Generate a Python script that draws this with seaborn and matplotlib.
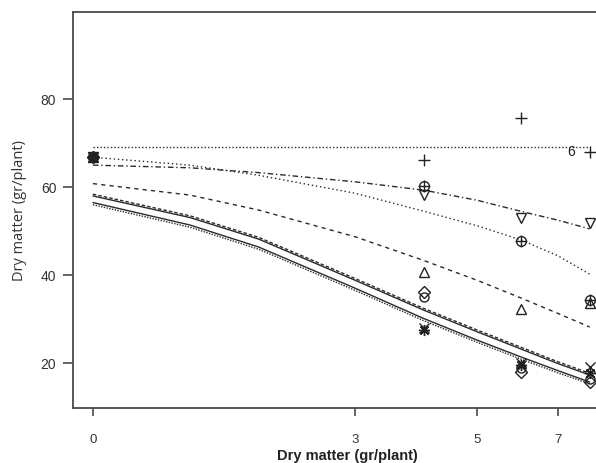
import numpy as np
import matplotlib
matplotlib.use("Agg")
import matplotlib.pyplot as plt
import seaborn as sns

# --- data ---
# doses of the observations; dose 0 is drawn at position 1 on the log axis (axis break)
dose = [0, 4, 6, 8]
zero_pos = 1.0

obs_plus = [66.8, 66.1, 75.7, 68.0]
obs_oplus = [66.8, 60.2, 47.7, 34.3]
obs_tri_down = [66.8, 58.2, 52.9, 51.9]
obs_tri_up = [66.8, 40.8, 32.4, 33.6]
obs_diamond = [66.8, 36.2, 18.0, 15.8]
obs_circle = [66.8, 35.1, 19.0, 16.5]
obs_cross = [66.8, 28.0, 20.0, 19.2]
obs_star = [66.8, 27.5, 19.5, 17.7]

# fitted curves, read at these axis positions (1 = dose 0)
curve_x = [1, 1.5, 2, 3, 4, 5, 6, 7, 8]
fit_flat = [69.1, 69.1, 69.1, 69.1, 69.1, 69.1, 69.1, 69.1, 69.1]
fit_dashdot = [65.0, 64.4, 63.3, 61.2, 59.3, 57.0, 54.5, 52.5, 50.5]
fit_dotted = [66.8, 65.0, 62.7, 58.6, 54.5, 51.2, 48.0, 44.4, 40.2]
fit_dashed = [60.8, 58.2, 54.8, 48.7, 43.3, 38.8, 34.8, 31.3, 28.2]
fit_up_solid = [58.0, 53.1, 48.2, 38.8, 32.0, 27.1, 23.2, 19.9, 17.3]
fit_up_dashed = [58.4, 53.5, 48.6, 39.2, 32.4, 27.5, 23.6, 20.3, 17.7]
fit_low_solid = [56.5, 51.4, 46.4, 37.0, 30.1, 25.2, 21.4, 18.3, 15.7]
fit_low_dotted = [56.0, 50.9, 45.9, 36.5, 29.6, 24.7, 20.9, 17.8, 15.3]

tick_pos = [1, 3, 5, 7]
tick_labels = ['0', '3', '5', '7']
y_ticks = [20, 40, 60, 80]

# --- figure ---
sns.set_theme(style='white')
plt.rcParams['font.family'] = ['Liberation Sans', 'DejaVu Sans']

fig = plt.figure(figsize=(5.96, 4.63), dpi=100)
ax = fig.add_axes([0.1225, 0.1188, 0.92, 0.8552])

line_col = '#2a2a2a'
curves = [
    (fit_flat, (0, (1, 1.5))),
    (fit_dashdot, (0, (4, 2, 1, 2))),
    (fit_dotted, (0, (1, 2))),
    (fit_dashed, (0, (3, 3))),
    (fit_up_solid, '-'),
    (fit_up_dashed, (0, (2.5, 1.5))),
    (fit_low_solid, '-'),
    (fit_low_dotted, (0, (1, 1))),
]
for vals, ls in curves:
    sns.lineplot(x=curve_x, y=vals, ax=ax, color=line_col, linewidth=1.0,
                 linestyle=ls, sort=False, estimator=None)

x_obs = np.where(np.array(dose) == 0, zero_pos, dose)
hollow = [(obs_tri_down, 'v', 7), (obs_tri_up, '^', 7),
          (obs_diamond, 'D', 6), (obs_circle, 'o', 6.5)]
for vals, mk, ms in hollow:
    ax.plot(x_obs, vals, linestyle='none', marker=mk, markersize=ms,
            markerfacecolor='none', markeredgecolor='#222', markeredgewidth=1.0)

open_marks = [(obs_plus, '+', 9), (obs_cross, 'x', 6.5), (obs_star, (8, 2, 0), 8)]
for vals, mk, ms in open_marks:
    ax.plot(x_obs, vals, linestyle='none', marker=mk, markersize=ms,
            color='#222', markeredgewidth=1.0)
ax.plot(x_obs, obs_oplus, linestyle='none', marker='o', markersize=7,
        markerfacecolor='none', markeredgecolor='#222', markeredgewidth=1.0)
ax.plot(x_obs, obs_oplus, linestyle='none', marker='+', markersize=9,
        color='#222', markeredgewidth=1.0)

ax.text(7.4, 68.0, '6', ha='center', va='center', fontsize=10, color='#222')

ax.set_xscale('log')
ax.set_xlim(0.92, 9.13)
ax.set_ylim(9.8, 99.8)
ax.set_xticks(tick_pos)
ax.set_xticklabels(tick_labels)
ax.xaxis.set_minor_locator(matplotlib.ticker.NullLocator())
ax.set_yticks(y_ticks)

for side in ['left', 'top', 'bottom']:
    ax.spines[side].set_color('#4a4a4a')
    ax.spines[side].set_linewidth(1.3)
ax.spines['right'].set_visible(False)

ax.tick_params(axis='y', length=7, width=1.2, color='#4a4a4a', pad=5,
               labelsize=10, labelcolor='#333', left=True)
ax.tick_params(axis='x', length=6, width=1.2, color='#4a4a4a', pad=13,
               labelsize=9.5, labelcolor='#333', bottom=True)

ax.set_xlabel('Dry matter (gr/plant)', fontsize=10.5, fontweight='bold',
              color='#222', labelpad=2)
ax.set_ylabel('Dry matter (gr/plant)', fontsize=10.5, color='#333',
              family=['Open Sans', 'DejaVu Sans'], labelpad=10)

fig.savefig('out.png', dpi=100)
